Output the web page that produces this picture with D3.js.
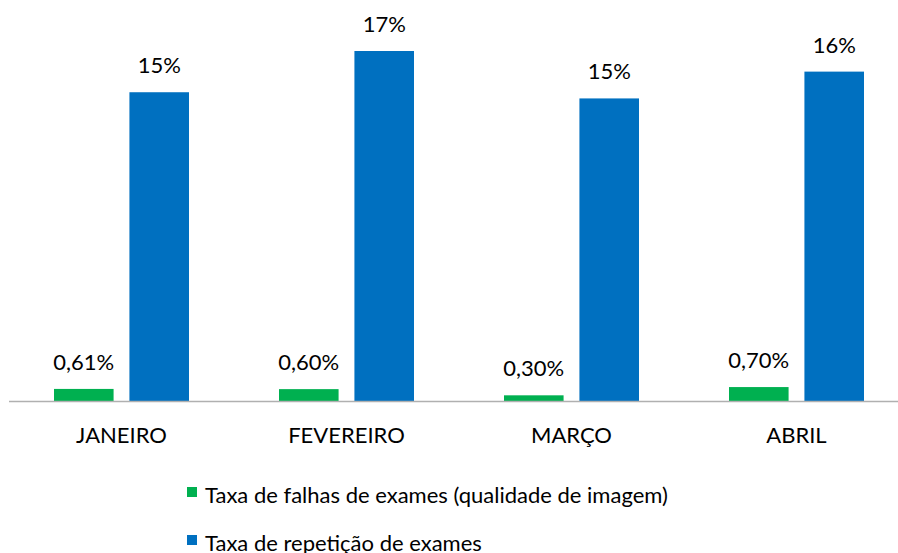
<!DOCTYPE html>
<html>
<head>
<meta charset="utf-8">
<script src="https://cdn.jsdelivr.net/npm/d3@7/dist/d3.min.js"></script>
<style>
  body { margin: 0; background: #fff; }
  text { font-family: Lato, "Open Sans", sans-serif; fill: #000; }
</style>
</head>
<body>
<script>
// data
var months = ['JANEIRO', 'FEVEREIRO', 'MARÇO', 'ABRIL'];
var falhas = [0.61, 0.60, 0.30, 0.70];
var repeticao = [15.0, 17.0, 14.7, 16.0];
var falhasLabels = ['0,61%', '0,60%', '0,30%', '0,70%'];
var repeticaoLabels = ['15%', '17%', '15%', '16%'];
var seriesNames = ['Taxa de falhas de exames (qualidade de imagem)', 'Taxa de repetição de exames'];
var colors = ['#00b050', '#0070c0'];

var w = 898, h = 553;
var base = 401.5;

var svg = d3.select('body').append('svg')
  .attr('width', w)
  .attr('height', h);

var x = d3.scaleBand()
  .domain(months)
  .range([9, 909]);

var x1 = d3.scaleBand()
  .domain([0, 1])
  .range([0, 135])
  .paddingInner(0.21);

var y = d3.scaleLinear()
  .domain([0, 17])
  .range([base, 51]);

var rows = months.map(function(m, i) {
  return { m: m, vals: [falhas[i], repeticao[i]], labels: [falhasLabels[i], repeticaoLabels[i]] };
});

var groups = svg.selectAll('g.grp')
  .data(rows)
  .enter()
  .append('g')
  .attr('class', 'grp')
  .attr('transform', function(d) {
    return 'translate(' + (x(d.m) + (x.bandwidth() - 135) / 2) + ',0)';
  });

groups.selectAll('rect')
  .data(function(d) { return d.vals.map(function(v, k) { return { v: v, k: k }; }); })
  .enter()
  .append('rect')
  .attr('x', function(d) { return x1(d.k); })
  .attr('y', function(d) { return y(d.v); })
  .attr('width', x1.bandwidth())
  .attr('height', function(d) { return base - y(d.v); })
  .attr('fill', function(d) { return colors[d.k]; });

groups.selectAll('text.val')
  .data(function(d) { return d.vals.map(function(v, k) { return { v: v, k: k, t: d.labels[k] }; }); })
  .enter()
  .append('text')
  .attr('class', 'val')
  .attr('x', function(d) { return x1(d.k) + x1.bandwidth() / 2; })
  .attr('y', function(d) { return y(d.v) - 19; })
  .attr('text-anchor', 'middle')
  .style('font-size', '22px')
  .text(function(d) { return d.t; });

// axis line
svg.append('line')
  .attr('x1', 9).attr('x2', 909)
  .attr('y1', base).attr('y2', base)
  .attr('stroke', '#b0b0b0')
  .attr('stroke-width', 1.3);

svg.selectAll('text.cat')
  .data(months)
  .enter()
  .append('text')
  .attr('class', 'cat')
  .attr('x', function(d) { return x(d) + x.bandwidth() / 2; })
  .attr('y', 443)
  .attr('text-anchor', 'middle')
  .style('font-size', '22px')
  .text(function(d) { return d; });

// legend
var leg = svg.selectAll('g.leg')
  .data(seriesNames)
  .enter()
  .append('g')
  .attr('class', 'leg')
  .attr('transform', function(d, i) { return 'translate(187,' + (487 + i * 48) + ')'; });

leg.append('rect')
  .attr('width', 10).attr('height', 10)
  .attr('fill', function(d, i) { return colors[i]; });

leg.append('text')
  .attr('x', 18)
  .attr('y', 16)
  .style('font-size', '22px')
  .text(function(d) { return d; });
</script>
</body>
</html>
